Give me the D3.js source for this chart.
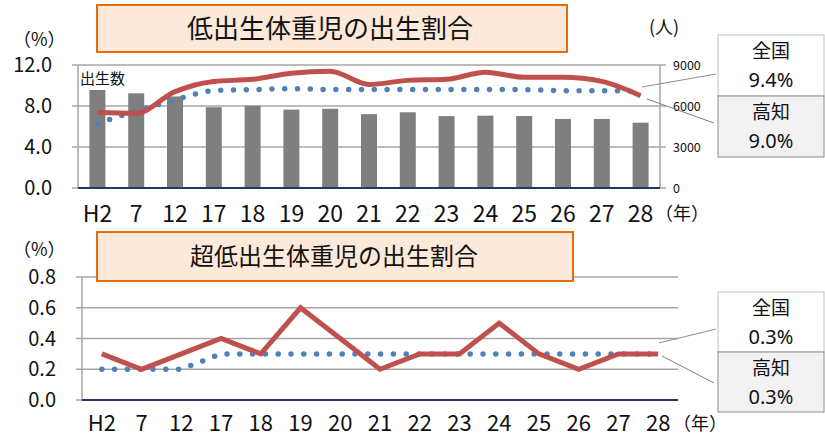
<!DOCTYPE html>
<html>
<head>
<meta charset="utf-8">
<title>低出生体重児の出生割合</title>
<style>
  body { margin: 0; background: #fff; }
  text { font-family: "Noto Sans CJK JP", "Noto Sans", sans-serif; fill: #111; }
</style>
</head>
<body>
<script src="https://cdnjs.cloudflare.com/ajax/libs/d3/7.8.5/d3.min.js"></script>
<script>
// 年（平成）
var years = ["H2","7","12","17","18","19","20","21","22","23","24","25","26","27","28"];
// 出生数（高知）
var births = [7170, 6930, 6700, 5910, 6017, 5733, 5799, 5403, 5541, 5260, 5290, 5268, 5050, 5052, 4779];
// 低出生体重児の割合 (%)
var lbwKochi = [7.4, 7.3, 9.4, 10.4, 10.6, 11.2, 11.4, 10.1, 10.5, 10.6, 11.3, 10.8, 10.8, 10.4, 9.0];
var lbwJapan = [6.3, 7.5, 8.6, 9.5, 9.6, 9.7, 9.6, 9.6, 9.6, 9.6, 9.6, 9.6, 9.5, 9.5, 9.4];
// 超低出生体重児の割合 (%)
var vlbwKochi = [0.3, 0.2, 0.3, 0.4, 0.3, 0.6, 0.4, 0.2, 0.3, 0.3, 0.5, 0.3, 0.2, 0.3, 0.3];
var vlbwJapan = [0.2, 0.2, 0.2, 0.3, 0.3, 0.3, 0.3, 0.3, 0.3, 0.3, 0.3, 0.3, 0.3, 0.3, 0.3];
// 目盛
var pctTicks1 = [0, 4, 8, 12];
var birthTicks = [0, 3000, 6000, 9000];
var pctTicks2 = [0, 0.2, 0.4, 0.6, 0.8];

var RED = "#c0504d", BLUE = "#4f81bd", GRID = "#a6a6a6", BASE = "#1f3864";

var svg = d3.select("body").append("svg")
  .attr("width", 825).attr("height", 437);

function titleBox(x, y, w, h, label, size, tx) {
  svg.append("rect").attr("x", x).attr("y", y).attr("width", w).attr("height", h)
    .attr("fill", "#fde9d9").attr("stroke", "#e46c0a").attr("stroke-width", 2);
  svg.append("text").attr("x", tx).attr("y", y + h / 2 + size * 0.36)
    .attr("font-size", size).text(label);
}

function callout(y0, h, nation, kochi, fromN, fromK) {
  var g = svg.append("g");
  g.append("line").attr("x1", fromN[0]).attr("y1", fromN[1]).attr("x2", 716).attr("y2", fromN[2])
    .attr("stroke", "#8c8c8c").attr("stroke-width", 1);
  g.append("line").attr("x1", fromK[0]).attr("y1", fromK[1]).attr("x2", 714).attr("y2", fromK[2])
    .attr("stroke", "#7f7f7f").attr("stroke-width", 1);
  g.append("rect").attr("x", 718).attr("y", y0).attr("width", 106).attr("height", h)
    .attr("fill", "#fff").attr("stroke", "#bfbfbf");
  g.append("rect").attr("x", 718).attr("y", y0 + h).attr("width", 106).attr("height", h)
    .attr("fill", "#f2f2f2").attr("stroke", "#8c8c8c");
  [["全国", nation, y0], ["高知", kochi, y0 + h]].forEach(function (d) {
    g.append("text").attr("x", 771).attr("y", d[2] + h * 0.38)
      .attr("text-anchor", "middle").attr("font-size", 19).text(d[0]);
    g.append("text").attr("x", 771).attr("y", d[2] + h * 0.86)
      .attr("text-anchor", "middle").attr("font-size", 20)
      .style("font-family", "'Noto Sans', sans-serif").text(d[1]);
  });
}

// ---------- 上段：低出生体重児 ----------
var x1 = d3.scaleBand().domain(years).range([78, 660]);
var y1 = d3.scaleLinear().domain([0, 12]).range([188, 65]);
var yb = d3.scaleLinear().domain([0, 9000]).range([188, 65]);
var c1 = function (d) { return x1(d) + x1.bandwidth() / 2; };

var topG = svg.append("g");
topG.selectAll(".grid").data(pctTicks1.slice(1)).enter().append("line")
  .attr("x1", 72).attr("x2", 660).attr("y1", y1).attr("y2", y1)
  .attr("stroke", GRID).attr("stroke-width", 1.5);
topG.append("line").attr("x1", 78).attr("x2", 78).attr("y1", 65).attr("y2", 188)
  .attr("stroke", GRID).attr("stroke-width", 1.5);
topG.append("line").attr("x1", 660).attr("x2", 660).attr("y1", 65).attr("y2", 188)
  .attr("stroke", GRID).attr("stroke-width", 1.5);
topG.append("line").attr("x1", 72).attr("x2", 78).attr("y1", 188).attr("y2", 188)
  .attr("stroke", GRID).attr("stroke-width", 1.5);
topG.selectAll(".rt").data(birthTicks).enter().append("line")
  .attr("x1", 660).attr("x2", 666).attr("y1", yb).attr("y2", yb)
  .attr("stroke", GRID).attr("stroke-width", 1.5);

topG.selectAll(".bar").data(births).enter().append("rect")
  .attr("x", function (d, i) { return c1(years[i]) - 8; })
  .attr("width", 16)
  .attr("y", yb).attr("height", function (d) { return 188 - yb(d); })
  .attr("fill", "#7f7f7f");

topG.append("line").attr("x1", 78).attr("x2", 660).attr("y1", 188).attr("y2", 188)
  .attr("stroke", BASE).attr("stroke-width", 2);

var line1 = d3.line().x(function (d, i) { return c1(years[i]); }).y(y1).curve(d3.curveMonotoneX);
topG.append("path").datum(lbwJapan).attr("d", line1).attr("fill", "none")
  .attr("stroke", BLUE).attr("stroke-width", 5.5).attr("stroke-linecap", "round")
  .attr("stroke-dasharray", "0,12.8");
topG.append("path").datum(lbwKochi).attr("d", line1).attr("fill", "none")
  .attr("stroke", RED).attr("stroke-width", 5);

topG.selectAll(".yl").data(pctTicks1).enter().append("text")
  .attr("x", 52).attr("y", function (d) { return y1(d) + 7; })
  .attr("text-anchor", "end").attr("font-size", 20).text(d3.format(".1f"));
topG.selectAll(".yr").data(birthTicks).enter().append("text")
  .attr("x", 673).attr("y", function (d) { return yb(d) + 4.5; })
  .attr("font-size", 12.5).text(function (d) { return d; });
topG.selectAll(".xl").data(years).enter().append("text")
  .attr("x", c1).attr("y", 222).attr("text-anchor", "middle")
  .attr("font-size", 23).text(function (d) { return d; });
topG.append("text").attr("x", 655).attr("y", 220).attr("font-size", 18).text("（年）");
topG.append("text").attr("x", 13).attr("y", 46).attr("font-size", 18).text("（%）");
topG.append("text").attr("x", 649).attr("y", 34).attr("font-size", 18).text("(人)");
topG.append("text").attr("x", 80).attr("y", 84).attr("font-size", 15).text("出生数");

titleBox(97, 5, 470, 47, "低出生体重児の出生割合", 26, 187);
callout(35, 61, "9.4%", "9.0%", [642, 87, 74], [647, 99, 123]);

// ---------- 下段：超低出生体重児 ----------
var x2 = d3.scaleBand().domain(years).range([82, 678]);
var y2 = d3.scaleLinear().domain([0, 0.8]).range([400, 277]);
var c2 = function (d) { return x2(d) + x2.bandwidth() / 2; };

var botG = svg.append("g");
botG.selectAll(".grid").data(pctTicks2.slice(1)).enter().append("line")
  .attr("x1", 76).attr("x2", 678).attr("y1", y2).attr("y2", y2)
  .attr("stroke", GRID).attr("stroke-width", 1.5);
botG.append("line").attr("x1", 82).attr("x2", 82).attr("y1", 277).attr("y2", 400)
  .attr("stroke", GRID).attr("stroke-width", 1.5);
botG.append("line").attr("x1", 76).attr("x2", 82).attr("y1", 400).attr("y2", 400)
  .attr("stroke", GRID).attr("stroke-width", 1.5);
botG.append("line").attr("x1", 82).attr("x2", 678).attr("y1", 400).attr("y2", 400)
  .attr("stroke", BASE).attr("stroke-width", 2);

var line2 = d3.line().x(function (d, i) { return c2(years[i]); }).y(y2);
botG.append("path").datum(vlbwJapan).attr("d", line2).attr("fill", "none")
  .attr("stroke", BLUE).attr("stroke-width", 5.5).attr("stroke-linecap", "round")
  .attr("stroke-dasharray", "0,12.8");
botG.append("path").datum(vlbwKochi).attr("d", line2).attr("fill", "none")
  .attr("stroke", RED).attr("stroke-width", 5).attr("stroke-linejoin", "miter");

botG.selectAll(".yl").data(pctTicks2).enter().append("text")
  .attr("x", 56).attr("y", function (d) { return y2(d) + 7; })
  .attr("text-anchor", "end").attr("font-size", 20).text(d3.format(".1f"));
botG.selectAll(".xl").data(years).enter().append("text")
  .attr("x", c2).attr("y", 431).attr("text-anchor", "middle")
  .attr("font-size", 22).text(function (d) { return d; });
botG.append("text").attr("x", 673).attr("y", 430).attr("font-size", 18).text("（年）");
botG.append("text").attr("x", 13).attr("y", 256).attr("font-size", 18).text("（%）");

titleBox(97, 232, 476, 49, "超低出生体重児の出生割合", 24, 190);
callout(292, 60, "0.3%", "0.3%", [659, 343, 329], [662, 356, 383]);
</script>
</body>
</html>
